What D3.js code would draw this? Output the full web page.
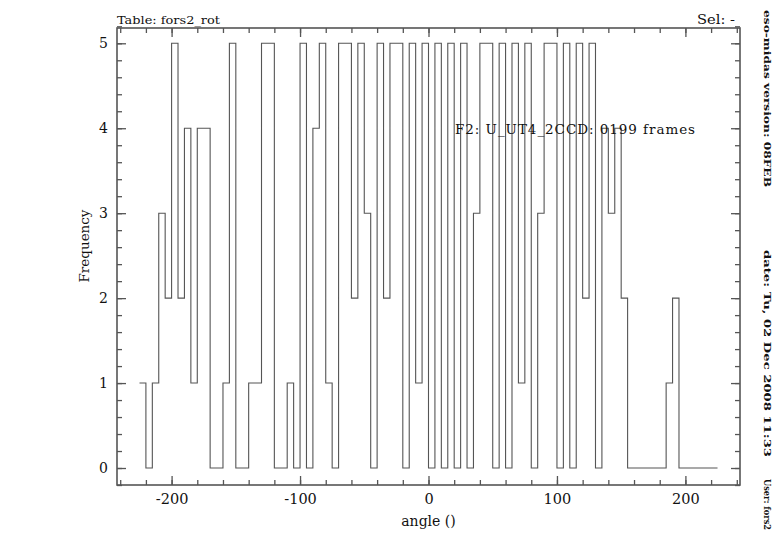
<!DOCTYPE html>
<html>
<head>
<meta charset="utf-8">
<script src="https://cdn.jsdelivr.net/npm/d3@7/dist/d3.min.js"></script>
<style>
  html, body { margin: 0; padding: 0; background: #fff; }
  svg { display: block; }
  text { fill: #111; }
</style>
</head>
<body>
<div id="chart"></div>
<script>
// ---- data ----
const binStart = -225;     // lower edge of first bin (angle)
const binWidth = 5;        // bin width (angle)
const counts = [
  1, 0, 1, 3, 2, 5, 2, 4, 1, 4,
  4, 0, 0, 1, 5, 0, 0, 1, 1, 5,
  5, 0, 0, 1, 0, 5, 0, 4, 5, 1,
  0, 5, 5, 2, 5, 3, 0, 5, 2, 5,
  5, 0, 5, 1, 5, 0, 5, 0, 5, 0,
  5, 0, 3, 5, 5, 0, 5, 0, 5, 1,
  5, 0, 3, 5, 5, 0, 5, 0, 5, 2,
  5, 0, 4, 3, 4, 2, 0, 0, 0, 0,
  0, 0, 1, 2, 0, 0, 0, 0, 0, 0
];
const xTickValues = [-200, -100, 0, 100, 200];
const xTickLabels = ["-200", "-100", "0", "100", "200"];
const yTickValues = [0, 1, 2, 3, 4, 5];
const yTickLabels = ["0", "1", "2", "3", "4", "5"];
const xMinorTicks = d3.range(-240, 241, 20);
const yMinorTicks = d3.range(-0.2, 5.21, 0.2).map(v => +v.toFixed(1));
const titleText = "Table: fors2_rot";
const selText = "Sel: -";
const xLabel = "angle ()";
const yLabel = "Frequency";
const annotation = "F2: U_UT4_2CCD: 0199 frames";
const sideTexts = ["eso-midas version: 08FEB", "date: Tu, 02 Dec 2008 11:33", "User: fors2"];

// ---- layout ----
const W = 782, H = 542;
const L = 117, R = 740, T = 28, B = 485;
const lineColor = "#555";
const serif = "DejaVu Serif, Liberation Serif, serif";

const svg = d3.select("#chart").append("svg").attr("width", W).attr("height", H)
  .attr("font-family", serif);

const x = d3.scaleLinear().domain([-242.5, 242.5]).range([L, R]);
const y = d3.scaleLinear().domain([-0.2, 5.18]).range([B, T]);

// histogram step line
const pts = counts.map((c, i) => [binStart + i * binWidth, c]);
pts.push([binStart + counts.length * binWidth, counts[counts.length - 1]]);
const line = d3.line().x(d => x(d[0])).y(d => y(d[1])).curve(d3.curveStepAfter);
svg.append("path").datum(pts)
  .attr("d", line)
  .attr("fill", "none")
  .attr("stroke", lineColor)
  .attr("stroke-width", 1.1);

function styleAxis(g) {
  g.select(".domain").remove();
  g.selectAll(".tick line").attr("stroke", lineColor).attr("stroke-width", 1.3);
}

// bottom
svg.append("g").attr("transform", `translate(0,${B})`)
  .call(d3.axisBottom(x).tickValues(xMinorTicks).tickSizeInner(-5).tickSizeOuter(0).tickFormat(""))
  .call(styleAxis);
svg.append("g").attr("transform", `translate(0,${B})`)
  .call(d3.axisBottom(x).tickValues(xTickValues).tickSizeInner(-9).tickSizeOuter(0).tickPadding(9)
    .tickFormat((d, i) => xTickLabels[i]))
  .call(styleAxis)
  .call(g => g.attr("font-family", serif).attr("font-size", 14.5))
  .call(g => g.selectAll("text").attr("fill", "#111"));
// top
svg.append("g").attr("transform", `translate(0,${T})`)
  .call(d3.axisTop(x).tickValues(xMinorTicks).tickSizeInner(-5).tickSizeOuter(0).tickFormat(""))
  .call(styleAxis);
svg.append("g").attr("transform", `translate(0,${T})`)
  .call(d3.axisTop(x).tickValues(xTickValues).tickSizeInner(-9).tickSizeOuter(0).tickFormat(""))
  .call(styleAxis);
// left
svg.append("g").attr("transform", `translate(${L},0)`)
  .call(d3.axisLeft(y).tickValues(yMinorTicks).tickSizeInner(-5).tickSizeOuter(0).tickFormat(""))
  .call(styleAxis);
svg.append("g").attr("transform", `translate(${L},0)`)
  .call(d3.axisLeft(y).tickValues(yTickValues).tickSizeInner(-9).tickSizeOuter(0).tickPadding(9)
    .tickFormat((d, i) => yTickLabels[i]))
  .call(styleAxis)
  .call(g => g.attr("font-family", serif).attr("font-size", 14))
  .call(g => g.selectAll("text").attr("fill", "#111"));
// right
svg.append("g").attr("transform", `translate(${R},0)`)
  .call(d3.axisRight(y).tickValues(yMinorTicks).tickSizeInner(-5).tickSizeOuter(0).tickFormat(""))
  .call(styleAxis);
svg.append("g").attr("transform", `translate(${R},0)`)
  .call(d3.axisRight(y).tickValues(yTickValues).tickSizeInner(-9).tickSizeOuter(0).tickFormat(""))
  .call(styleAxis);

// frame
svg.append("rect").attr("x", L).attr("y", T).attr("width", R - L).attr("height", B - T)
  .attr("fill", "none").attr("stroke", lineColor).attr("stroke-width", 1.6);

// texts
svg.append("text").attr("x", L).attr("y", 24).attr("font-size", 11.5)
  .attr("textLength", 103).attr("lengthAdjust", "spacingAndGlyphs").text(titleText);
svg.append("text").attr("x", 697).attr("y", 24).attr("font-size", 12)
  .attr("textLength", 38).attr("lengthAdjust", "spacingAndGlyphs").text(selText);

svg.append("text").attr("x", (L + R) / 2).attr("y", 526).attr("font-size", 14)
  .attr("text-anchor", "middle").text(xLabel);

svg.append("text").attr("transform", "translate(89,246) rotate(-90)")
  .attr("font-size", 13.5).attr("text-anchor", "middle").text(yLabel);

svg.append("text").attr("x", 455).attr("y", 134).attr("font-size", 13.5)
  .attr("textLength", 240).attr("lengthAdjust", "spacing").text(annotation);

const sidePos = [[10, 177], [250, 207], [479, 51]];
sideTexts.forEach((t, i) => {
  svg.append("text")
    .attr("transform", `translate(764,${sidePos[i][0]}) rotate(90)`)
    .attr("font-size", 10).attr("font-weight", "bold")
    .attr("textLength", sidePos[i][1]).attr("lengthAdjust", "spacingAndGlyphs")
    .text(t);
});
</script>
</body>
</html>
